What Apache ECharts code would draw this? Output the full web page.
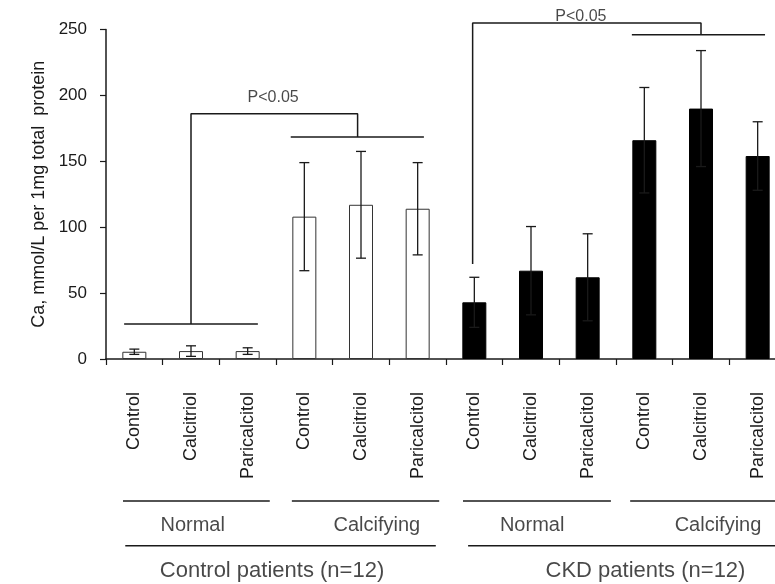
<!DOCTYPE html>
<html>
<head>
<meta charset="utf-8">
<script src="https://cdn.jsdelivr.net/npm/echarts@6/dist/echarts.min.js"></script>
<style>
html,body{margin:0;padding:0;background:#fff;overflow:hidden;width:775px;height:584px;}
#chart{width:790px;height:584px;}
</style>
</head>
<body>
<div id="chart"></div>
<script>
// ---- data ----
const treatments = ['Control', 'Calcitriol', 'Paricalcitol'];
const categories = [].concat(treatments, treatments, treatments, treatments);
const caValues = [5.5, 6, 6, 108, 117, 114, 43, 67, 62, 166, 190, 154];
const caErrors = [2, 4, 2.5, 41, 40.5, 35, 19, 33.5, 33, 40, 44, 26];
const patientGroup = ['Control', 'Control', 'Control', 'Control', 'Control', 'Control', 'CKD', 'CKD', 'CKD', 'CKD', 'CKD', 'CKD'];
const yTicks = { min: 0, max: 250, interval: 50 };
const yTitle = 'Ca, mmol/L per 1mg total  protein';

// ---- annotations (data space: x = category index, y = Ca value) ----
const sigBrackets = [
  [[-0.18, 26.6], [2.18, 26.6]],
  [[1, 26.6], [1, 186], [3.94, 186], [3.94, 168.5]],
  [[2.76, 168.5], [5.11, 168.5]],
  [[5.97, 72], [5.97, 255], [10, 255], [10, 246]],
  [[8.78, 246], [11.13, 246]]
];
const sigLabels = [
  { text: 'P<0.05', at: [2.45, 198] },
  { text: 'P<0.05', at: [7.88, 260] }
];
const groupLines = [
  [[-0.2, -107.7], [2.39, -107.7]],
  [[2.78, -107.7], [5.38, -107.7]],
  [[5.8, -107.7], [8.41, -107.7]],
  [[8.75, -107.7], [11.6, -107.7]],
  [[-0.16, -141.7], [5.32, -141.7]],
  [[5.89, -141.7], [11.6, -141.7]]
];
const subGroupLabels = [
  { text: 'Normal', at: [1.03, -126] },
  { text: 'Calcifying', at: [4.28, -126] },
  { text: 'Normal', at: [7.02, -126] },
  { text: 'Calcifying', at: [10.3, -126] }
];
const patientLabels = [
  { text: 'Control patients (n=12)', at: [2.43, -160.8] },
  { text: 'CKD patients (n=12)', at: [9.02, -160.8] }
];

// ---- styles ----
const FONT = 'Liberation Sans, Arial, sans-serif';
const INK = '#1a1a1a';
const barStyles = {
  Control: { color: '#ffffff', borderColor: '#333', borderWidth: 1 },
  CKD: { color: '#000000', borderColor: '#000', borderWidth: 1 }
};

const chart = echarts.init(document.getElementById('chart'), null, { renderer: 'canvas' });

const lineSeries = (pts, width) => ({
  type: 'line', xAxisIndex: 1, yAxisIndex: 0, data: pts, symbol: 'none', clip: false,
  silent: true, z: 5,
  lineStyle: { color: INK, width: width }
});
const textSeries = (items, size) => ({
  type: 'scatter', xAxisIndex: 1, yAxisIndex: 0, clip: false, silent: true, z: 6,
  symbolSize: 0,
  data: items.map(d => ({ name: d.text, value: d.at })),
  label: { show: true, position: 'inside', formatter: p => p.name, color: INK, fontSize: size, fontFamily: FONT }
});

const series = [
  {
    type: 'bar', xAxisIndex: 0, yAxisIndex: 0, barWidth: 24,
    data: caValues.map((v, i) => ({ value: v, itemStyle: barStyles[patientGroup[i]] }))
  },
  {
    type: 'custom', xAxisIndex: 0, yAxisIndex: 0, z: 4,
    data: caValues.map((v, i) => [i, v, caErrors[i]]),
    renderItem: function (params, api) {
      const x = api.value(0), v = api.value(1), e = api.value(2);
      const top = api.coord([x, v + e]);
      const bot = api.coord([x, v - e]);
      const h = 5;
      const st = { stroke: INK, lineWidth: 1.3 };
      return {
        type: 'group', children: [
          { type: 'line', shape: { x1: top[0], y1: top[1], x2: bot[0], y2: bot[1] }, style: st },
          { type: 'line', shape: { x1: top[0] - h, y1: top[1], x2: top[0] + h, y2: top[1] }, style: st },
          { type: 'line', shape: { x1: bot[0] - h, y1: bot[1], x2: bot[0] + h, y2: bot[1] }, style: st }
        ]
      };
    }
  }
];
sigBrackets.forEach(b => series.push(lineSeries(b, 1.5)));
groupLines.forEach(b => series.push(lineSeries(b, 1.5)));
series.push(textSeries(sigLabels, 16));
series.push(textSeries(subGroupLabels, 20));
series.push(textSeries(patientLabels, 22));

chart.setOption({
  animation: false,
  backgroundColor: '#ffffff',
  grid: { left: 106, top: 29.5, right: 4, height: 329.5, containLabel: false },
  xAxis: [
    {
      type: 'category', data: categories,
      axisLine: { show: true, onZero: false, lineStyle: { color: INK, width: 1.5 } },
      axisTick: { show: true, length: 6, lineStyle: { color: INK, width: 1.2 } },
      axisLabel: { rotate: 90, margin: 33, fontSize: 18, color: INK, fontFamily: FONT, interval: 0 },
      splitLine: { show: false }
    },
    { type: 'value', min: -0.5, max: 11.5, show: false, gridIndex: 0 }
  ],
  yAxis: [{
    type: 'value', min: yTicks.min, max: yTicks.max, interval: yTicks.interval,
    name: yTitle, nameLocation: 'middle', nameGap: 52,
    nameTextStyle: { fontSize: 18, color: INK, fontFamily: FONT },
    axisLine: { show: true, onZero: false, lineStyle: { color: INK, width: 1.5 } },
    axisTick: { show: true, length: 6, lineStyle: { color: INK, width: 1.2 } },
    axisLabel: { margin: 19, fontSize: 17, color: INK, fontFamily: FONT },
    splitLine: { show: false }
  }],
  series: series
});
</script>
</body>
</html>
